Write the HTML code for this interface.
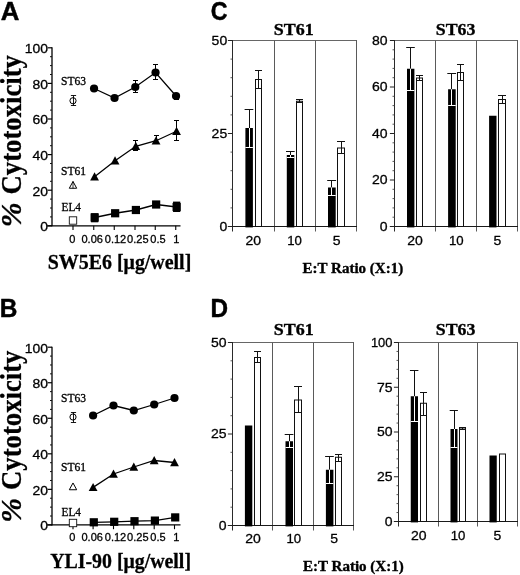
<!DOCTYPE html>
<html lang="en">
<head>
<meta charset="utf-8">
<title>Figure</title>
<style>
html,body{margin:0;padding:0;background:#fff;}
body{width:520px;height:575px;overflow:hidden;}
svg{display:block;}
svg text{fill:#000;stroke:#000;stroke-width:0.3px;stroke-linejoin:round;}
.sa{font-family:"Liberation Sans",sans-serif;}
.se{font-family:"Liberation Serif",serif;}
.b{font-weight:bold;}
.i{font-style:italic;}
.m{text-anchor:middle;}
.e{text-anchor:end;}
</style>
</head>
<body>
<svg width="520" height="575" viewBox="0 0 520 575">
<rect x="0" y="0" width="520" height="575" fill="#fff"/>
<text x="0.65" y="19.8" class="sa b" font-size="25" style="stroke-width:.45px" textLength="18.65" lengthAdjust="spacingAndGlyphs">A</text>
<line x1="52" y1="47.3" x2="52" y2="226.3" stroke="#000" stroke-width="1.3" />
<line x1="47.7" y1="225.8" x2="52" y2="225.8" stroke="#000" stroke-width="1.2" />
<line x1="50.0" y1="216.9" x2="52" y2="216.9" stroke="#111" stroke-width="1" />
<line x1="50.0" y1="208.0" x2="52" y2="208.0" stroke="#111" stroke-width="1" />
<line x1="50.0" y1="199.10000000000002" x2="52" y2="199.10000000000002" stroke="#111" stroke-width="1" />
<line x1="47.7" y1="190.20000000000002" x2="52" y2="190.20000000000002" stroke="#000" stroke-width="1.2" />
<line x1="50.0" y1="181.3" x2="52" y2="181.3" stroke="#111" stroke-width="1" />
<line x1="50.0" y1="172.4" x2="52" y2="172.4" stroke="#111" stroke-width="1" />
<line x1="50.0" y1="163.5" x2="52" y2="163.5" stroke="#111" stroke-width="1" />
<line x1="47.7" y1="154.60000000000002" x2="52" y2="154.60000000000002" stroke="#000" stroke-width="1.2" />
<line x1="50.0" y1="145.70000000000002" x2="52" y2="145.70000000000002" stroke="#111" stroke-width="1" />
<line x1="50.0" y1="136.8" x2="52" y2="136.8" stroke="#111" stroke-width="1" />
<line x1="50.0" y1="127.9" x2="52" y2="127.9" stroke="#111" stroke-width="1" />
<line x1="47.7" y1="119.00000000000001" x2="52" y2="119.00000000000001" stroke="#000" stroke-width="1.2" />
<line x1="50.0" y1="110.10000000000001" x2="52" y2="110.10000000000001" stroke="#111" stroke-width="1" />
<line x1="50.0" y1="101.20000000000002" x2="52" y2="101.20000000000002" stroke="#111" stroke-width="1" />
<line x1="50.0" y1="92.30000000000001" x2="52" y2="92.30000000000001" stroke="#111" stroke-width="1" />
<line x1="47.7" y1="83.4" x2="52" y2="83.4" stroke="#000" stroke-width="1.2" />
<line x1="50.0" y1="74.5" x2="52" y2="74.5" stroke="#111" stroke-width="1" />
<line x1="50.0" y1="65.60000000000002" x2="52" y2="65.60000000000002" stroke="#111" stroke-width="1" />
<line x1="50.0" y1="56.70000000000002" x2="52" y2="56.70000000000002" stroke="#111" stroke-width="1" />
<line x1="47.7" y1="47.80000000000001" x2="52" y2="47.80000000000001" stroke="#000" stroke-width="1.2" />
<text x="48.1" y="231.1" class="sa e" font-size="13.3"  textLength="7.77" lengthAdjust="spacingAndGlyphs">0</text>
<text x="48.1" y="195.5" class="sa e" font-size="13.3"  textLength="15.53" lengthAdjust="spacingAndGlyphs">20</text>
<text x="48.1" y="159.9" class="sa e" font-size="13.3"  textLength="15.53" lengthAdjust="spacingAndGlyphs">40</text>
<text x="48.1" y="124.3" class="sa e" font-size="13.3"  textLength="15.53" lengthAdjust="spacingAndGlyphs">60</text>
<text x="48.1" y="88.7" class="sa e" font-size="13.3"  textLength="15.53" lengthAdjust="spacingAndGlyphs">80</text>
<text x="48.1" y="53.1" class="sa e" font-size="13.3"  textLength="23.3" lengthAdjust="spacingAndGlyphs">100</text>
<line x1="47" y1="225.8" x2="180.5" y2="225.8" stroke="#000" stroke-width="1.3" />
<line x1="73" y1="225.8" x2="73" y2="230.10000000000002" stroke="#000" stroke-width="1.1" />
<line x1="93.75" y1="225.8" x2="93.75" y2="230.10000000000002" stroke="#000" stroke-width="1.1" />
<line x1="114.25" y1="225.8" x2="114.25" y2="230.10000000000002" stroke="#000" stroke-width="1.1" />
<line x1="135" y1="225.8" x2="135" y2="230.10000000000002" stroke="#000" stroke-width="1.1" />
<line x1="155.25" y1="225.8" x2="155.25" y2="230.10000000000002" stroke="#000" stroke-width="1.1" />
<line x1="175.75" y1="225.8" x2="175.75" y2="230.10000000000002" stroke="#000" stroke-width="1.1" />
<text x="72.3" y="243" class="sa m" font-size="11.5"  textLength="6.14" lengthAdjust="spacingAndGlyphs">0</text>
<text x="92.2" y="243" class="sa m" font-size="11.5"  textLength="21.49" lengthAdjust="spacingAndGlyphs">0.06</text>
<text x="115.5" y="243" class="sa m" font-size="11.5"  textLength="21.49" lengthAdjust="spacingAndGlyphs">0.12</text>
<text x="137.8" y="243" class="sa m" font-size="11.5"  textLength="21.49" lengthAdjust="spacingAndGlyphs">0.25</text>
<text x="158" y="243" class="sa m" font-size="11.5"  textLength="15.35" lengthAdjust="spacingAndGlyphs">0.5</text>
<text x="176.2" y="243" class="sa m" font-size="11.5"  textLength="6.14" lengthAdjust="spacingAndGlyphs">1</text>
<text transform="translate(20.8,227.2) rotate(-90)" class="se b" font-size="29"><tspan class="i" font-size="29.8">%</tspan> <tspan x="32.8" y="0" textLength="139.3" lengthAdjust="spacingAndGlyphs">Cytotoxicity</tspan></text>
<text x="47.8" y="269" class="se b" font-size="21"  textLength="143.5" lengthAdjust="spacingAndGlyphs">SW5E6 [μg/well]</text>
<polyline points="94.05,88.5 114.55,98 135.3,87 155.55,72.5 176.05,96" fill="none" stroke="#000" stroke-width="1.3"/>
<polyline points="94.55,176.75 115.05,160.75 135.8,146.25 156.05,140.75 176.55,131.25" fill="none" stroke="#000" stroke-width="1.3"/>
<polyline points="94.65,217.5 115.15,213.25 135.9,210 156.15,204.5 176.65,207" fill="none" stroke="#000" stroke-width="1.3"/>
<line x1="135.5" y1="80.5" x2="135.5" y2="92.5" stroke="#000" stroke-width="1" />
<line x1="133.0" y1="80.5" x2="138.0" y2="80.5" stroke="#000" stroke-width="1" />
<line x1="133.0" y1="92.5" x2="138.0" y2="92.5" stroke="#000" stroke-width="1" />
<line x1="155.5" y1="64.5" x2="155.5" y2="79.5" stroke="#000" stroke-width="1" />
<line x1="153.0" y1="64.5" x2="158.0" y2="64.5" stroke="#000" stroke-width="1" />
<line x1="153.0" y1="79.5" x2="158.0" y2="79.5" stroke="#000" stroke-width="1" />
<line x1="176.5" y1="93.5" x2="176.5" y2="99.5" stroke="#000" stroke-width="1" />
<line x1="174.0" y1="93.5" x2="179.0" y2="93.5" stroke="#000" stroke-width="1" />
<line x1="174.0" y1="99.5" x2="179.0" y2="99.5" stroke="#000" stroke-width="1" />
<line x1="135.5" y1="140.5" x2="135.5" y2="150.5" stroke="#000" stroke-width="1" />
<line x1="133.0" y1="140.5" x2="138.0" y2="140.5" stroke="#000" stroke-width="1" />
<line x1="133.0" y1="150.5" x2="138.0" y2="150.5" stroke="#000" stroke-width="1" />
<line x1="156.5" y1="135.5" x2="156.5" y2="143.5" stroke="#000" stroke-width="1" />
<line x1="154.0" y1="135.5" x2="159.0" y2="135.5" stroke="#000" stroke-width="1" />
<line x1="154.0" y1="143.5" x2="159.0" y2="143.5" stroke="#000" stroke-width="1" />
<line x1="176.5" y1="120.5" x2="176.5" y2="140.5" stroke="#000" stroke-width="1" />
<line x1="174.0" y1="120.5" x2="179.0" y2="120.5" stroke="#000" stroke-width="1" />
<line x1="174.0" y1="140.5" x2="179.0" y2="140.5" stroke="#000" stroke-width="1" />
<rect x="91.05" y="213.2" width="7.2" height="9.1" fill="#000" stroke="none" stroke-width="1"/>
<rect x="173.05" y="201.6" width="7.2" height="10.4" fill="#000" stroke="none" stroke-width="1"/>
<circle cx="94.05" cy="88.5" r="4.1" fill="#000" stroke="none" stroke-width="1"/>
<circle cx="114.55" cy="98" r="4.1" fill="#000" stroke="none" stroke-width="1"/>
<circle cx="135.3" cy="87" r="4.1" fill="#000" stroke="none" stroke-width="1"/>
<circle cx="155.55" cy="72.5" r="4.1" fill="#000" stroke="none" stroke-width="1"/>
<circle cx="176.05" cy="96" r="4.1" fill="#000" stroke="none" stroke-width="1"/>
<polygon points="94.55,172.24 90.14999999999999,180.44 98.95,180.44" fill="#000" stroke="none" stroke-width="1" stroke-linejoin="miter"/>
<polygon points="115.05,156.24 110.64999999999999,164.44 119.45,164.44" fill="#000" stroke="none" stroke-width="1" stroke-linejoin="miter"/>
<polygon points="135.8,141.74 131.4,149.94 140.20000000000002,149.94" fill="#000" stroke="none" stroke-width="1" stroke-linejoin="miter"/>
<polygon points="156.05,136.24 151.65,144.44 160.45000000000002,144.44" fill="#000" stroke="none" stroke-width="1" stroke-linejoin="miter"/>
<polygon points="176.55,126.74 172.15,134.94 180.95000000000002,134.94" fill="#000" stroke="none" stroke-width="1" stroke-linejoin="miter"/>
<rect x="90.55" y="213.4" width="8.2" height="8.2" fill="#000" stroke="none" stroke-width="1"/>
<rect x="111.05" y="209.15" width="8.2" height="8.2" fill="#000" stroke="none" stroke-width="1"/>
<rect x="131.8" y="205.9" width="8.2" height="8.2" fill="#000" stroke="none" stroke-width="1"/>
<rect x="152.05" y="200.4" width="8.2" height="8.2" fill="#000" stroke="none" stroke-width="1"/>
<rect x="172.55" y="202.9" width="8.2" height="8.2" fill="#000" stroke="none" stroke-width="1"/>
<circle cx="73" cy="100.75" r="3.1" fill="#fff" stroke="#000" stroke-width="1.0"/>
<line x1="73.5" y1="95.5" x2="73.5" y2="105.5" stroke="#000" stroke-width="0.9" />
<line x1="70.9" y1="95.5" x2="76.1" y2="95.5" stroke="#000" stroke-width="0.9" />
<line x1="70.9" y1="105.5" x2="76.1" y2="105.5" stroke="#000" stroke-width="0.9" />
<polygon points="73,181.45999999999998 69.3,188.26 76.7,188.26" fill="#fff" stroke="#000" stroke-width="1" stroke-linejoin="miter"/>
<line x1="73" y1="181.4" x2="73" y2="188.4" stroke="#000" stroke-width="0.8" />
<rect x="69.3" y="216.8" width="7.4" height="7.4" fill="#fff" stroke="#111" stroke-width="0.9"/>
<text x="61" y="84.5" class="se" font-size="11.6"  textLength="25" lengthAdjust="spacingAndGlyphs">ST63</text>
<text x="61" y="175" class="se" font-size="11.6"  textLength="25" lengthAdjust="spacingAndGlyphs">ST61</text>
<text x="61.5" y="210.8" class="se" font-size="11.6"  textLength="19.5" lengthAdjust="spacingAndGlyphs">EL4</text>
<text x="-0.35" y="317.0" class="sa b" font-size="25" style="stroke-width:.45px" textLength="17.64" lengthAdjust="spacingAndGlyphs">B</text>
<line x1="52" y1="346.7" x2="52" y2="525.4" stroke="#000" stroke-width="1.3" />
<line x1="47.7" y1="524.9" x2="52" y2="524.9" stroke="#000" stroke-width="1.2" />
<line x1="50.0" y1="516.015" x2="52" y2="516.015" stroke="#111" stroke-width="1" />
<line x1="50.0" y1="507.13" x2="52" y2="507.13" stroke="#111" stroke-width="1" />
<line x1="50.0" y1="498.245" x2="52" y2="498.245" stroke="#111" stroke-width="1" />
<line x1="47.7" y1="489.35999999999996" x2="52" y2="489.35999999999996" stroke="#000" stroke-width="1.2" />
<line x1="50.0" y1="480.47499999999997" x2="52" y2="480.47499999999997" stroke="#111" stroke-width="1" />
<line x1="50.0" y1="471.59" x2="52" y2="471.59" stroke="#111" stroke-width="1" />
<line x1="50.0" y1="462.705" x2="52" y2="462.705" stroke="#111" stroke-width="1" />
<line x1="47.7" y1="453.82" x2="52" y2="453.82" stroke="#000" stroke-width="1.2" />
<line x1="50.0" y1="444.93499999999995" x2="52" y2="444.93499999999995" stroke="#111" stroke-width="1" />
<line x1="50.0" y1="436.04999999999995" x2="52" y2="436.04999999999995" stroke="#111" stroke-width="1" />
<line x1="50.0" y1="427.16499999999996" x2="52" y2="427.16499999999996" stroke="#111" stroke-width="1" />
<line x1="47.7" y1="418.28" x2="52" y2="418.28" stroke="#000" stroke-width="1.2" />
<line x1="50.0" y1="409.395" x2="52" y2="409.395" stroke="#111" stroke-width="1" />
<line x1="50.0" y1="400.51" x2="52" y2="400.51" stroke="#111" stroke-width="1" />
<line x1="50.0" y1="391.625" x2="52" y2="391.625" stroke="#111" stroke-width="1" />
<line x1="47.7" y1="382.74" x2="52" y2="382.74" stroke="#000" stroke-width="1.2" />
<line x1="50.0" y1="373.855" x2="52" y2="373.855" stroke="#111" stroke-width="1" />
<line x1="50.0" y1="364.96999999999997" x2="52" y2="364.96999999999997" stroke="#111" stroke-width="1" />
<line x1="50.0" y1="356.085" x2="52" y2="356.085" stroke="#111" stroke-width="1" />
<line x1="47.7" y1="347.2" x2="52" y2="347.2" stroke="#000" stroke-width="1.2" />
<text x="48.1" y="530.2" class="sa e" font-size="13.3"  textLength="7.77" lengthAdjust="spacingAndGlyphs">0</text>
<text x="48.1" y="494.66" class="sa e" font-size="13.3"  textLength="15.53" lengthAdjust="spacingAndGlyphs">20</text>
<text x="48.1" y="459.12" class="sa e" font-size="13.3"  textLength="15.53" lengthAdjust="spacingAndGlyphs">40</text>
<text x="48.1" y="423.58" class="sa e" font-size="13.3"  textLength="15.53" lengthAdjust="spacingAndGlyphs">60</text>
<text x="48.1" y="388.04" class="sa e" font-size="13.3"  textLength="15.53" lengthAdjust="spacingAndGlyphs">80</text>
<text x="48.1" y="352.5" class="sa e" font-size="13.3"  textLength="23.3" lengthAdjust="spacingAndGlyphs">100</text>
<line x1="47" y1="524.9" x2="180.5" y2="524.9" stroke="#000" stroke-width="1.3" />
<line x1="73" y1="524.9" x2="73" y2="529.1999999999999" stroke="#000" stroke-width="1.1" />
<line x1="93.1" y1="524.9" x2="93.1" y2="529.1999999999999" stroke="#000" stroke-width="1.1" />
<line x1="113.5" y1="524.9" x2="113.5" y2="529.1999999999999" stroke="#000" stroke-width="1.1" />
<line x1="133.8" y1="524.9" x2="133.8" y2="529.1999999999999" stroke="#000" stroke-width="1.1" />
<line x1="154.2" y1="524.9" x2="154.2" y2="529.1999999999999" stroke="#000" stroke-width="1.1" />
<line x1="174.5" y1="524.9" x2="174.5" y2="529.1999999999999" stroke="#000" stroke-width="1.1" />
<text x="72.3" y="540.5" class="sa m" font-size="11.5"  textLength="6.14" lengthAdjust="spacingAndGlyphs">0</text>
<text x="92.2" y="540.5" class="sa m" font-size="11.5"  textLength="21.49" lengthAdjust="spacingAndGlyphs">0.06</text>
<text x="115.5" y="540.5" class="sa m" font-size="11.5"  textLength="21.49" lengthAdjust="spacingAndGlyphs">0.12</text>
<text x="137.8" y="540.5" class="sa m" font-size="11.5"  textLength="21.49" lengthAdjust="spacingAndGlyphs">0.25</text>
<text x="158" y="540.5" class="sa m" font-size="11.5"  textLength="15.35" lengthAdjust="spacingAndGlyphs">0.5</text>
<text x="176.2" y="540.5" class="sa m" font-size="11.5"  textLength="6.14" lengthAdjust="spacingAndGlyphs">1</text>
<text transform="translate(20.8,522.7) rotate(-90)" class="se b" font-size="29"><tspan class="i" font-size="29.8">%</tspan> <tspan x="32.8" y="0" textLength="139.3" lengthAdjust="spacingAndGlyphs">Cytotoxicity</tspan></text>
<text x="50.2" y="567.5" class="se b" font-size="21"  textLength="140.8" lengthAdjust="spacingAndGlyphs">YLI-90 [μg/well]</text>
<polyline points="93.1,415.5 113.5,405.5 133.8,410.5 154.2,404.5 174.5,398" fill="none" stroke="#000" stroke-width="1.3"/>
<polyline points="93.1,487.4 113.5,474 133.8,467 154.2,460.5 174.5,462.5" fill="none" stroke="#000" stroke-width="1.3"/>
<polyline points="93.8,522.3 114.2,521.8 134.5,521.2 154.9,520.6 175.2,517.4" fill="none" stroke="#000" stroke-width="1.3"/>
<circle cx="93.1" cy="415.5" r="4.1" fill="#000" stroke="none" stroke-width="1"/>
<circle cx="113.5" cy="405.5" r="4.1" fill="#000" stroke="none" stroke-width="1"/>
<circle cx="133.8" cy="410.5" r="4.1" fill="#000" stroke="none" stroke-width="1"/>
<circle cx="154.2" cy="404.5" r="4.1" fill="#000" stroke="none" stroke-width="1"/>
<circle cx="174.5" cy="398" r="4.1" fill="#000" stroke="none" stroke-width="1"/>
<polygon points="93.1,482.89 88.69999999999999,491.09 97.5,491.09" fill="#000" stroke="none" stroke-width="1" stroke-linejoin="miter"/>
<polygon points="113.5,469.49 109.1,477.69 117.9,477.69" fill="#000" stroke="none" stroke-width="1" stroke-linejoin="miter"/>
<polygon points="133.8,462.49 129.4,470.69 138.20000000000002,470.69" fill="#000" stroke="none" stroke-width="1" stroke-linejoin="miter"/>
<polygon points="154.2,455.99 149.79999999999998,464.19 158.6,464.19" fill="#000" stroke="none" stroke-width="1" stroke-linejoin="miter"/>
<polygon points="174.5,457.99 170.1,466.19 178.9,466.19" fill="#000" stroke="none" stroke-width="1" stroke-linejoin="miter"/>
<rect x="89.7" y="518.2" width="8.2" height="8.2" fill="#000" stroke="none" stroke-width="1"/>
<rect x="110.1" y="517.7" width="8.2" height="8.2" fill="#000" stroke="none" stroke-width="1"/>
<rect x="130.4" y="517.1" width="8.2" height="8.2" fill="#000" stroke="none" stroke-width="1"/>
<rect x="150.8" y="516.5" width="8.2" height="8.2" fill="#000" stroke="none" stroke-width="1"/>
<rect x="171.1" y="513.3" width="8.2" height="8.2" fill="#000" stroke="none" stroke-width="1"/>
<circle cx="73" cy="417" r="3.1" fill="#fff" stroke="#000" stroke-width="1.0"/>
<line x1="73.5" y1="412.5" x2="73.5" y2="422.5" stroke="#000" stroke-width="0.9" />
<line x1="70.9" y1="412.5" x2="76.1" y2="412.5" stroke="#000" stroke-width="0.9" />
<line x1="70.9" y1="422.5" x2="76.1" y2="422.5" stroke="#000" stroke-width="0.9" />
<polygon points="73,482.96 69.3,489.76 76.7,489.76" fill="#fff" stroke="#000" stroke-width="1" stroke-linejoin="miter"/>
<rect x="69.3" y="519.3" width="7.4" height="7.4" fill="#fff" stroke="#111" stroke-width="0.9"/>
<text x="61" y="401.5" class="se" font-size="11.6"  textLength="25" lengthAdjust="spacingAndGlyphs">ST63</text>
<text x="61" y="471" class="se" font-size="11.6"  textLength="25" lengthAdjust="spacingAndGlyphs">ST61</text>
<text x="61.5" y="516.0" class="se" font-size="11.6"  textLength="19.5" lengthAdjust="spacingAndGlyphs">EL4</text>
<text x="210.87" y="20.1" class="sa b" font-size="25" style="stroke-width:.45px" textLength="16.76" lengthAdjust="spacingAndGlyphs">C</text>
<line x1="232.5" y1="40.5" x2="356.5" y2="40.5" stroke="#666" stroke-width="1" />
<line x1="232.5" y1="40.0" x2="232.5" y2="231.5" stroke="#2a2a2a" stroke-width="1" />
<line x1="356.5" y1="40.0" x2="356.5" y2="231.5" stroke="#5a5a5a" stroke-width="1" />
<line x1="274.5" y1="40.5" x2="274.5" y2="231.5" stroke="#5a5a5a" stroke-width="1" />
<line x1="315.5" y1="40.5" x2="315.5" y2="231.5" stroke="#5a5a5a" stroke-width="1" />
<line x1="227.9" y1="226.5" x2="357.0" y2="226.5" stroke="#1a1a1a" stroke-width="1.1" />
<line x1="227.9" y1="226.5" x2="232.5" y2="226.5" stroke="#222" stroke-width="1" />
<line x1="230.5" y1="207.9" x2="232.5" y2="207.9" stroke="#444" stroke-width="0.9" />
<line x1="230.5" y1="189.3" x2="232.5" y2="189.3" stroke="#444" stroke-width="0.9" />
<line x1="230.5" y1="170.7" x2="232.5" y2="170.7" stroke="#444" stroke-width="0.9" />
<line x1="230.5" y1="152.1" x2="232.5" y2="152.1" stroke="#444" stroke-width="0.9" />
<line x1="227.9" y1="133.5" x2="232.5" y2="133.5" stroke="#222" stroke-width="1" />
<line x1="230.5" y1="114.9" x2="232.5" y2="114.9" stroke="#444" stroke-width="0.9" />
<line x1="230.5" y1="96.3" x2="232.5" y2="96.3" stroke="#444" stroke-width="0.9" />
<line x1="230.5" y1="77.7" x2="232.5" y2="77.7" stroke="#444" stroke-width="0.9" />
<line x1="230.5" y1="59.1" x2="232.5" y2="59.1" stroke="#444" stroke-width="0.9" />
<line x1="227.9" y1="40.5" x2="232.5" y2="40.5" stroke="#222" stroke-width="1" />
<text x="227.2" y="230.8" class="sa e" font-size="13.6"  textLength="7.79" lengthAdjust="spacingAndGlyphs">0</text>
<text x="227.2" y="137.8" class="sa e" font-size="13.6"  textLength="15.58" lengthAdjust="spacingAndGlyphs">25</text>
<text x="227.2" y="44.8" class="sa e" font-size="13.6"  textLength="15.58" lengthAdjust="spacingAndGlyphs">50</text>
<text x="273.76" y="35.3" class="se b" font-size="17.2" style="stroke-width:.35px" textLength="39.9" lengthAdjust="spacingAndGlyphs">ST61</text>
<text x="253.25" y="244.6" class="sa m" font-size="13.6"  textLength="15.58" lengthAdjust="spacingAndGlyphs">20</text>
<text x="294.5" y="244.6" class="sa m" font-size="13.6"  textLength="14.67" lengthAdjust="spacingAndGlyphs">10</text>
<text x="336.75" y="244.6" class="sa m" font-size="13.6"  textLength="7.79" lengthAdjust="spacingAndGlyphs">5</text>
<rect x="245.4" y="128" width="7.5" height="99.4" fill="#000" stroke="none" stroke-width="1"/>
<line x1="249.5" y1="109.5" x2="249.5" y2="128" stroke="#111" stroke-width="1" />
<line x1="244.6" y1="109.5" x2="253.3" y2="109.5" stroke="#111" stroke-width="1" />
<line x1="249.5" y1="128" x2="249.5" y2="147.5" stroke="#fff" stroke-width="1" />
<line x1="245.4" y1="147.5" x2="252.9" y2="147.5" stroke="#fff" stroke-width="1" />
<rect x="255.5" y="79.5" width="6.0" height="147.0" fill="#fff" stroke="#111" stroke-width="1"/>
<line x1="258.5" y1="70.5" x2="258.5" y2="88.5" stroke="#111" stroke-width="1" />
<line x1="255.0" y1="70.5" x2="262.0" y2="70.5" stroke="#111" stroke-width="1" />
<line x1="255.0" y1="88.5" x2="262.0" y2="88.5" stroke="#111" stroke-width="1" />
<rect x="286.8" y="155" width="7.5" height="72.4" fill="#000" stroke="none" stroke-width="1"/>
<line x1="290.5" y1="151.5" x2="290.5" y2="155" stroke="#111" stroke-width="1" />
<line x1="286.0" y1="151.5" x2="294.7" y2="151.5" stroke="#111" stroke-width="1" />
<line x1="290.5" y1="155" x2="290.5" y2="157" stroke="#fff" stroke-width="1" />
<line x1="286.8" y1="157.5" x2="294.3" y2="157.5" stroke="#fff" stroke-width="1" />
<rect x="296.5" y="101.25" width="6.0" height="125.25" fill="#fff" stroke="#111" stroke-width="1"/>
<line x1="299.5" y1="99.5" x2="299.5" y2="102.5" stroke="#111" stroke-width="1" />
<line x1="296.0" y1="99.5" x2="303.0" y2="99.5" stroke="#111" stroke-width="1" />
<line x1="296.0" y1="102.5" x2="303.0" y2="102.5" stroke="#111" stroke-width="1" />
<rect x="328" y="187.5" width="7.7" height="39.9" fill="#000" stroke="none" stroke-width="1"/>
<line x1="331.5" y1="180.5" x2="331.5" y2="187.5" stroke="#111" stroke-width="1" />
<line x1="327.2" y1="180.5" x2="336.09999999999997" y2="180.5" stroke="#111" stroke-width="1" />
<line x1="331.5" y1="187.5" x2="331.5" y2="195.5" stroke="#fff" stroke-width="1" />
<line x1="328" y1="195.5" x2="335.7" y2="195.5" stroke="#fff" stroke-width="1" />
<rect x="337.5" y="148" width="7.0" height="78.5" fill="#fff" stroke="#111" stroke-width="1"/>
<line x1="341.5" y1="141.5" x2="341.5" y2="153.5" stroke="#111" stroke-width="1" />
<line x1="337.0" y1="141.5" x2="345.0" y2="141.5" stroke="#111" stroke-width="1" />
<line x1="337.0" y1="153.5" x2="345.0" y2="153.5" stroke="#111" stroke-width="1" />
<line x1="394.5" y1="40.5" x2="517.5" y2="40.5" stroke="#666" stroke-width="1" />
<line x1="394.5" y1="40.0" x2="394.5" y2="231.5" stroke="#2a2a2a" stroke-width="1" />
<line x1="517.5" y1="40.0" x2="517.5" y2="231.5" stroke="#5a5a5a" stroke-width="1" />
<line x1="435.5" y1="40.5" x2="435.5" y2="231.5" stroke="#5a5a5a" stroke-width="1" />
<line x1="476.5" y1="40.5" x2="476.5" y2="231.5" stroke="#5a5a5a" stroke-width="1" />
<line x1="389.9" y1="226.5" x2="518.0" y2="226.5" stroke="#1a1a1a" stroke-width="1.1" />
<line x1="389.9" y1="226.5" x2="394.5" y2="226.5" stroke="#222" stroke-width="1" />
<line x1="392.5" y1="217.2" x2="394.5" y2="217.2" stroke="#444" stroke-width="0.9" />
<line x1="392.5" y1="207.9" x2="394.5" y2="207.9" stroke="#444" stroke-width="0.9" />
<line x1="392.5" y1="198.6" x2="394.5" y2="198.6" stroke="#444" stroke-width="0.9" />
<line x1="392.5" y1="189.3" x2="394.5" y2="189.3" stroke="#444" stroke-width="0.9" />
<line x1="389.9" y1="180.0" x2="394.5" y2="180.0" stroke="#222" stroke-width="1" />
<line x1="392.5" y1="170.7" x2="394.5" y2="170.7" stroke="#444" stroke-width="0.9" />
<line x1="392.5" y1="161.4" x2="394.5" y2="161.4" stroke="#444" stroke-width="0.9" />
<line x1="392.5" y1="152.1" x2="394.5" y2="152.1" stroke="#444" stroke-width="0.9" />
<line x1="392.5" y1="142.8" x2="394.5" y2="142.8" stroke="#444" stroke-width="0.9" />
<line x1="389.9" y1="133.5" x2="394.5" y2="133.5" stroke="#222" stroke-width="1" />
<line x1="392.5" y1="124.2" x2="394.5" y2="124.2" stroke="#444" stroke-width="0.9" />
<line x1="392.5" y1="114.9" x2="394.5" y2="114.9" stroke="#444" stroke-width="0.9" />
<line x1="392.5" y1="105.6" x2="394.5" y2="105.6" stroke="#444" stroke-width="0.9" />
<line x1="392.5" y1="96.3" x2="394.5" y2="96.3" stroke="#444" stroke-width="0.9" />
<line x1="389.9" y1="87.0" x2="394.5" y2="87.0" stroke="#222" stroke-width="1" />
<line x1="392.5" y1="77.7" x2="394.5" y2="77.7" stroke="#444" stroke-width="0.9" />
<line x1="392.5" y1="68.4" x2="394.5" y2="68.4" stroke="#444" stroke-width="0.9" />
<line x1="392.5" y1="59.1" x2="394.5" y2="59.1" stroke="#444" stroke-width="0.9" />
<line x1="392.5" y1="49.8" x2="394.5" y2="49.8" stroke="#444" stroke-width="0.9" />
<line x1="389.9" y1="40.5" x2="394.5" y2="40.5" stroke="#222" stroke-width="1" />
<text x="387.6" y="230.8" class="sa e" font-size="13.6"  textLength="7.79" lengthAdjust="spacingAndGlyphs">0</text>
<text x="387.6" y="184.3" class="sa e" font-size="13.6"  textLength="15.58" lengthAdjust="spacingAndGlyphs">20</text>
<text x="387.6" y="137.8" class="sa e" font-size="13.6"  textLength="15.58" lengthAdjust="spacingAndGlyphs">40</text>
<text x="387.6" y="91.3" class="sa e" font-size="13.6"  textLength="15.58" lengthAdjust="spacingAndGlyphs">60</text>
<text x="387.6" y="44.8" class="sa e" font-size="13.6"  textLength="15.58" lengthAdjust="spacingAndGlyphs">80</text>
<text x="435.77" y="35.3" class="se b" font-size="17.2" style="stroke-width:.35px" textLength="39.57" lengthAdjust="spacingAndGlyphs">ST63</text>
<text x="415" y="244.6" class="sa m" font-size="13.6"  textLength="15.58" lengthAdjust="spacingAndGlyphs">20</text>
<text x="456.25" y="244.6" class="sa m" font-size="13.6"  textLength="14.67" lengthAdjust="spacingAndGlyphs">10</text>
<text x="497.5" y="244.6" class="sa m" font-size="13.6"  textLength="7.79" lengthAdjust="spacingAndGlyphs">5</text>
<rect x="407" y="68.75" width="7.4" height="158.65" fill="#000" stroke="none" stroke-width="1"/>
<line x1="410.5" y1="47.5" x2="410.5" y2="68.75" stroke="#111" stroke-width="1" />
<line x1="406.2" y1="47.5" x2="414.79999999999995" y2="47.5" stroke="#111" stroke-width="1" />
<line x1="410.5" y1="68.75" x2="410.5" y2="90" stroke="#fff" stroke-width="1" />
<line x1="407" y1="90.5" x2="414.4" y2="90.5" stroke="#fff" stroke-width="1" />
<rect x="416.5" y="78" width="6.0" height="148.5" fill="#fff" stroke="#111" stroke-width="1"/>
<line x1="419.5" y1="75.5" x2="419.5" y2="80.5" stroke="#111" stroke-width="1" />
<line x1="416.0" y1="75.5" x2="423.0" y2="75.5" stroke="#111" stroke-width="1" />
<line x1="416.0" y1="80.5" x2="423.0" y2="80.5" stroke="#111" stroke-width="1" />
<rect x="448.1" y="89.25" width="7.6" height="138.15" fill="#000" stroke="none" stroke-width="1"/>
<line x1="451.5" y1="73.5" x2="451.5" y2="89.25" stroke="#111" stroke-width="1" />
<line x1="447.3" y1="73.5" x2="456.09999999999997" y2="73.5" stroke="#111" stroke-width="1" />
<line x1="451.5" y1="89.25" x2="451.5" y2="105" stroke="#fff" stroke-width="1" />
<line x1="448.1" y1="105.5" x2="455.7" y2="105.5" stroke="#fff" stroke-width="1" />
<rect x="457.5" y="72.5" width="6.0" height="154.0" fill="#fff" stroke="#111" stroke-width="1"/>
<line x1="460.5" y1="64.5" x2="460.5" y2="80.5" stroke="#111" stroke-width="1" />
<line x1="457.0" y1="64.5" x2="464.0" y2="64.5" stroke="#111" stroke-width="1" />
<line x1="457.0" y1="80.5" x2="464.0" y2="80.5" stroke="#111" stroke-width="1" />
<rect x="489.1" y="115.75" width="7.4" height="111.65" fill="#000" stroke="none" stroke-width="1"/>
<rect x="498.5" y="99.5" width="7.0" height="127.0" fill="#fff" stroke="#111" stroke-width="1"/>
<line x1="502.5" y1="95.5" x2="502.5" y2="103.5" stroke="#111" stroke-width="1" />
<line x1="498.0" y1="95.5" x2="506.0" y2="95.5" stroke="#111" stroke-width="1" />
<line x1="498.0" y1="103.5" x2="506.0" y2="103.5" stroke="#111" stroke-width="1" />
<text x="302.64" y="272.7" class="se b" font-size="14.5" style="stroke-width:.35px" textLength="100.51" lengthAdjust="spacingAndGlyphs">E:T Ratio (X:1)</text>
<text x="210.46" y="317.0" class="sa b" font-size="25" style="stroke-width:.45px" textLength="17.57" lengthAdjust="spacingAndGlyphs">D</text>
<line x1="232.5" y1="342.5" x2="353.5" y2="342.5" stroke="#666" stroke-width="1" />
<line x1="232.5" y1="342.0" x2="232.5" y2="530.5" stroke="#2a2a2a" stroke-width="1" />
<line x1="353.5" y1="342.0" x2="353.5" y2="530.5" stroke="#5a5a5a" stroke-width="1" />
<line x1="272.5" y1="342.5" x2="272.5" y2="530.5" stroke="#5a5a5a" stroke-width="1" />
<line x1="313.5" y1="342.5" x2="313.5" y2="530.5" stroke="#5a5a5a" stroke-width="1" />
<line x1="227.9" y1="525.5" x2="354.0" y2="525.5" stroke="#1a1a1a" stroke-width="1.1" />
<line x1="227.9" y1="525.5" x2="232.5" y2="525.5" stroke="#222" stroke-width="1" />
<line x1="230.5" y1="507.2" x2="232.5" y2="507.2" stroke="#444" stroke-width="0.9" />
<line x1="230.5" y1="488.9" x2="232.5" y2="488.9" stroke="#444" stroke-width="0.9" />
<line x1="230.5" y1="470.6" x2="232.5" y2="470.6" stroke="#444" stroke-width="0.9" />
<line x1="230.5" y1="452.3" x2="232.5" y2="452.3" stroke="#444" stroke-width="0.9" />
<line x1="227.9" y1="434.0" x2="232.5" y2="434.0" stroke="#222" stroke-width="1" />
<line x1="230.5" y1="415.7" x2="232.5" y2="415.7" stroke="#444" stroke-width="0.9" />
<line x1="230.5" y1="397.4" x2="232.5" y2="397.4" stroke="#444" stroke-width="0.9" />
<line x1="230.5" y1="379.1" x2="232.5" y2="379.1" stroke="#444" stroke-width="0.9" />
<line x1="230.5" y1="360.8" x2="232.5" y2="360.8" stroke="#444" stroke-width="0.9" />
<line x1="227.9" y1="342.5" x2="232.5" y2="342.5" stroke="#222" stroke-width="1" />
<text x="226.6" y="529.8" class="sa e" font-size="13.6"  textLength="7.79" lengthAdjust="spacingAndGlyphs">0</text>
<text x="226.6" y="438.3" class="sa e" font-size="13.6"  textLength="15.58" lengthAdjust="spacingAndGlyphs">25</text>
<text x="226.6" y="346.8" class="sa e" font-size="13.6"  textLength="15.58" lengthAdjust="spacingAndGlyphs">50</text>
<text x="273.76" y="335.3" class="se b" font-size="17.2" style="stroke-width:.35px" textLength="39.9" lengthAdjust="spacingAndGlyphs">ST61</text>
<text x="253" y="542.9" class="sa m" font-size="13.6"  textLength="15.58" lengthAdjust="spacingAndGlyphs">20</text>
<text x="293.75" y="542.9" class="sa m" font-size="13.6"  textLength="14.67" lengthAdjust="spacingAndGlyphs">10</text>
<text x="334.25" y="542.9" class="sa m" font-size="13.6"  textLength="7.79" lengthAdjust="spacingAndGlyphs">5</text>
<rect x="244.9" y="425.5" width="7.4" height="100.9" fill="#000" stroke="none" stroke-width="1"/>
<rect x="254.5" y="357.5" width="6.0" height="168.0" fill="#fff" stroke="#111" stroke-width="1"/>
<line x1="257.5" y1="351.5" x2="257.5" y2="362.5" stroke="#111" stroke-width="1" />
<line x1="254.0" y1="351.5" x2="261.0" y2="351.5" stroke="#111" stroke-width="1" />
<line x1="254.0" y1="362.5" x2="261.0" y2="362.5" stroke="#111" stroke-width="1" />
<rect x="285.5" y="441.25" width="7.5" height="85.15" fill="#000" stroke="none" stroke-width="1"/>
<line x1="289.5" y1="434.5" x2="289.5" y2="441.25" stroke="#111" stroke-width="1" />
<line x1="284.7" y1="434.5" x2="293.4" y2="434.5" stroke="#111" stroke-width="1" />
<line x1="289.5" y1="441.25" x2="289.5" y2="447.5" stroke="#fff" stroke-width="1" />
<line x1="285.5" y1="447.5" x2="293" y2="447.5" stroke="#fff" stroke-width="1" />
<rect x="294.5" y="400" width="7.0" height="125.5" fill="#fff" stroke="#111" stroke-width="1"/>
<line x1="298.5" y1="386.5" x2="298.5" y2="412.5" stroke="#111" stroke-width="1" />
<line x1="294.0" y1="386.5" x2="302.0" y2="386.5" stroke="#111" stroke-width="1" />
<line x1="294.0" y1="412.5" x2="302.0" y2="412.5" stroke="#111" stroke-width="1" />
<rect x="325.9" y="469.75" width="7.5" height="56.65" fill="#000" stroke="none" stroke-width="1"/>
<line x1="329.5" y1="456.5" x2="329.5" y2="469.75" stroke="#111" stroke-width="1" />
<line x1="325.09999999999997" y1="456.5" x2="333.79999999999995" y2="456.5" stroke="#111" stroke-width="1" />
<line x1="329.5" y1="469.75" x2="329.5" y2="483" stroke="#fff" stroke-width="1" />
<line x1="325.9" y1="483.5" x2="333.4" y2="483.5" stroke="#fff" stroke-width="1" />
<rect x="335.5" y="457.25" width="6.0" height="68.25" fill="#fff" stroke="#111" stroke-width="1"/>
<line x1="338.5" y1="454.5" x2="338.5" y2="461.5" stroke="#111" stroke-width="1" />
<line x1="335.0" y1="454.5" x2="342.0" y2="454.5" stroke="#111" stroke-width="1" />
<line x1="335.0" y1="461.5" x2="342.0" y2="461.5" stroke="#111" stroke-width="1" />
<line x1="398.5" y1="342.5" x2="517.5" y2="342.5" stroke="#666" stroke-width="1" />
<line x1="398.5" y1="342.0" x2="398.5" y2="526.5" stroke="#2a2a2a" stroke-width="1" />
<line x1="517.5" y1="342.0" x2="517.5" y2="526.5" stroke="#5a5a5a" stroke-width="1" />
<line x1="438.5" y1="342.5" x2="438.5" y2="526.5" stroke="#5a5a5a" stroke-width="1" />
<line x1="477.5" y1="342.5" x2="477.5" y2="526.5" stroke="#5a5a5a" stroke-width="1" />
<line x1="393.9" y1="521.5" x2="518.0" y2="521.5" stroke="#1a1a1a" stroke-width="1.1" />
<line x1="393.9" y1="521.5" x2="398.5" y2="521.5" stroke="#222" stroke-width="1" />
<line x1="396.5" y1="512.55" x2="398.5" y2="512.55" stroke="#444" stroke-width="0.9" />
<line x1="396.5" y1="503.6" x2="398.5" y2="503.6" stroke="#444" stroke-width="0.9" />
<line x1="396.5" y1="494.65" x2="398.5" y2="494.65" stroke="#444" stroke-width="0.9" />
<line x1="396.5" y1="485.7" x2="398.5" y2="485.7" stroke="#444" stroke-width="0.9" />
<line x1="393.9" y1="476.75" x2="398.5" y2="476.75" stroke="#222" stroke-width="1" />
<line x1="396.5" y1="467.8" x2="398.5" y2="467.8" stroke="#444" stroke-width="0.9" />
<line x1="396.5" y1="458.85" x2="398.5" y2="458.85" stroke="#444" stroke-width="0.9" />
<line x1="396.5" y1="449.9" x2="398.5" y2="449.9" stroke="#444" stroke-width="0.9" />
<line x1="396.5" y1="440.95" x2="398.5" y2="440.95" stroke="#444" stroke-width="0.9" />
<line x1="393.9" y1="432.0" x2="398.5" y2="432.0" stroke="#222" stroke-width="1" />
<line x1="396.5" y1="423.05" x2="398.5" y2="423.05" stroke="#444" stroke-width="0.9" />
<line x1="396.5" y1="414.1" x2="398.5" y2="414.1" stroke="#444" stroke-width="0.9" />
<line x1="396.5" y1="405.15" x2="398.5" y2="405.15" stroke="#444" stroke-width="0.9" />
<line x1="396.5" y1="396.2" x2="398.5" y2="396.2" stroke="#444" stroke-width="0.9" />
<line x1="393.9" y1="387.25" x2="398.5" y2="387.25" stroke="#222" stroke-width="1" />
<line x1="396.5" y1="378.3" x2="398.5" y2="378.3" stroke="#444" stroke-width="0.9" />
<line x1="396.5" y1="369.35" x2="398.5" y2="369.35" stroke="#444" stroke-width="0.9" />
<line x1="396.5" y1="360.4" x2="398.5" y2="360.4" stroke="#444" stroke-width="0.9" />
<line x1="396.5" y1="351.45" x2="398.5" y2="351.45" stroke="#444" stroke-width="0.9" />
<line x1="393.9" y1="342.5" x2="398.5" y2="342.5" stroke="#222" stroke-width="1" />
<text x="392.5" y="525.8" class="sa e" font-size="13.6"  textLength="7.79" lengthAdjust="spacingAndGlyphs">0</text>
<text x="392.5" y="481.05" class="sa e" font-size="13.6"  textLength="15.58" lengthAdjust="spacingAndGlyphs">25</text>
<text x="392.5" y="436.3" class="sa e" font-size="13.6"  textLength="15.58" lengthAdjust="spacingAndGlyphs">50</text>
<text x="392.5" y="391.55" class="sa e" font-size="13.6"  textLength="15.58" lengthAdjust="spacingAndGlyphs">75</text>
<text x="392.5" y="346.8" class="sa e" font-size="13.6"  textLength="21.56" lengthAdjust="spacingAndGlyphs">100</text>
<text x="435.77" y="335.3" class="se b" font-size="17.2" style="stroke-width:.35px" textLength="39.57" lengthAdjust="spacingAndGlyphs">ST63</text>
<text x="418.75" y="540.3" class="sa m" font-size="13.6"  textLength="15.58" lengthAdjust="spacingAndGlyphs">20</text>
<text x="458" y="540.3" class="sa m" font-size="13.6"  textLength="14.67" lengthAdjust="spacingAndGlyphs">10</text>
<text x="497.5" y="540.3" class="sa m" font-size="13.6"  textLength="7.79" lengthAdjust="spacingAndGlyphs">5</text>
<rect x="410.75" y="396.25" width="7.25" height="126.15" fill="#000" stroke="none" stroke-width="1"/>
<line x1="414.5" y1="370.5" x2="414.5" y2="396.25" stroke="#111" stroke-width="1" />
<line x1="409.95" y1="370.5" x2="418.4" y2="370.5" stroke="#111" stroke-width="1" />
<line x1="414.5" y1="396.25" x2="414.5" y2="421.75" stroke="#fff" stroke-width="1" />
<line x1="410.75" y1="421.5" x2="418" y2="421.5" stroke="#fff" stroke-width="1" />
<rect x="420.5" y="403.25" width="6.0" height="118.25" fill="#fff" stroke="#111" stroke-width="1"/>
<line x1="423.5" y1="392.5" x2="423.5" y2="415.5" stroke="#111" stroke-width="1" />
<line x1="420.0" y1="392.5" x2="427.0" y2="392.5" stroke="#111" stroke-width="1" />
<line x1="420.0" y1="415.5" x2="427.0" y2="415.5" stroke="#111" stroke-width="1" />
<rect x="450.5" y="429" width="7.0" height="93.4" fill="#000" stroke="none" stroke-width="1"/>
<line x1="454.5" y1="410.5" x2="454.5" y2="429" stroke="#111" stroke-width="1" />
<line x1="449.7" y1="410.5" x2="457.9" y2="410.5" stroke="#111" stroke-width="1" />
<line x1="454.5" y1="429" x2="454.5" y2="447.25" stroke="#fff" stroke-width="1" />
<line x1="450.5" y1="447.5" x2="457.5" y2="447.5" stroke="#fff" stroke-width="1" />
<rect x="459.5" y="428" width="6.0" height="93.5" fill="#fff" stroke="#111" stroke-width="1"/>
<line x1="462.5" y1="427.5" x2="462.5" y2="429.5" stroke="#111" stroke-width="1" />
<line x1="459.0" y1="427.5" x2="466.0" y2="427.5" stroke="#111" stroke-width="1" />
<line x1="459.0" y1="429.5" x2="466.0" y2="429.5" stroke="#111" stroke-width="1" />
<rect x="489.5" y="455.5" width="7.25" height="66.9" fill="#000" stroke="none" stroke-width="1"/>
<rect x="499.5" y="454" width="6.0" height="67.5" fill="#fff" stroke="#111" stroke-width="1"/>
<text x="303.04" y="570.7" class="se b" font-size="14.5" style="stroke-width:.35px" textLength="100.71" lengthAdjust="spacingAndGlyphs">E:T Ratio (X:1)</text>
</svg>
</body>
</html>
